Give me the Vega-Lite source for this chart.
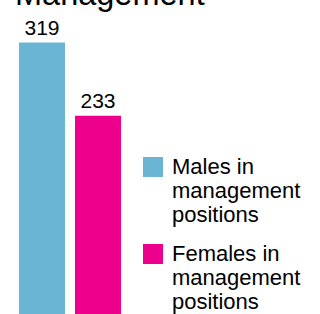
{
  "$schema": "https://vega.github.io/schema/vega-lite/v6.json",
  "autosize": "none",
  "width": 320,
  "height": 314,
  "padding": 0,
  "background": "white",
  "title": {
    "text": "Management",
    "anchor": "start",
    "orient": "top",
    "frame": "group",
    "font": "Liberation Sans",
    "fontSize": 32.5,
    "fontWeight": "normal",
    "color": "black",
    "baseline": "alphabetic",
    "offset": -37,
    "dx": 15
  },
  "config": {
    "view": {"stroke": null},
    "text": {"font": "Liberation Sans"}
  },
  "data": {
    "values": [
      {"group": "Males in management positions", "count": 319},
      {"group": "Females in management positions", "count": 233}
    ]
  },
  "encoding": {
    "x": {
      "field": "group",
      "type": "nominal",
      "sort": null,
      "axis": null,
      "scale": {"range": [19, 121], "paddingInner": 0.1786, "paddingOuter": 0}
    },
    "y": {
      "field": "count",
      "type": "quantitative",
      "axis": null,
      "scale": {"domain": [0, 369], "nice": false}
    }
  },
  "layer": [
    {
      "mark": {"type": "bar"},
      "encoding": {
        "color": {
          "field": "group",
          "type": "nominal",
          "sort": null,
          "scale": {"domain": ["Males in management positions", "Females in management positions"], "range": ["#6bb5d4", "#ec008c"]},
          "legend": {
            "title": null,
            "orient": "none",
            "legendX": 142,
            "legendY": 156,
            "symbolType": "square",
            "symbolSize": 400,
            "symbolStrokeWidth": 0,
            "symbolOpacity": 1,
            "labelFont": "Liberation Sans",
            "labelFontSize": 22,
            "labelColor": "black",
            "labelLimit": 300,
            "labelOffset": 8,
            "labelBaseline": "middle",
            "rowPadding": 17,
            "labelExpr": "datum.label == 'Males in management positions' ? ['Males in', 'management', 'positions'] : ['Females in', 'management', 'positions']"
          }
        }
      }
    },
    {
      "mark": {"type": "text", "baseline": "bottom", "dy": -4, "fontSize": 21, "color": "black", "font": "Liberation Sans"},
      "encoding": {"text": {"field": "count", "type": "quantitative"}}
    }
  ]
}
